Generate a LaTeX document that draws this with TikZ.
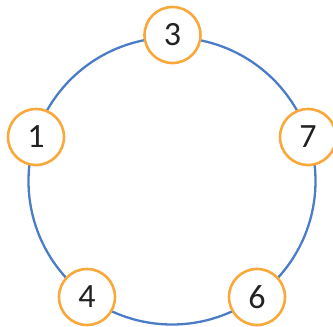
\documentclass[tikz,border=0pt]{standalone}
\usepackage{fontspec}
\setmainfont{Carlito}
\definecolor{ringblue}{HTML}{4A7CC8}
\definecolor{orangeb}{HTML}{F8A93A}
\definecolor{numtext}{HTML}{222222}
\begin{document}
\begin{tikzpicture}[x=1pt,y=-1pt,
  numnode/.style={circle,draw=orangeb,line width=2.6pt,fill=white,minimum size=56pt,inner sep=0pt,text=numtext,font=\fontsize{34}{34}\selectfont},
  bigring/.style={draw=ringblue,line width=2.3pt}]
\useasboundingbox (0,0) rectangle (333,327);
\coordinate (o) at (172,181);
\draw[bigring] (o) circle[radius=143.5pt];
\node[numnode] (n3) at (172.5,35) {3};
\node[numnode] (n1) at (36,137) {1};
\node[numnode] (n7) at (308,137) {7};
\node[numnode] (n4) at (87,297) {4};
\node[numnode] (n6) at (257,297) {6};
\end{tikzpicture}
\end{document}
